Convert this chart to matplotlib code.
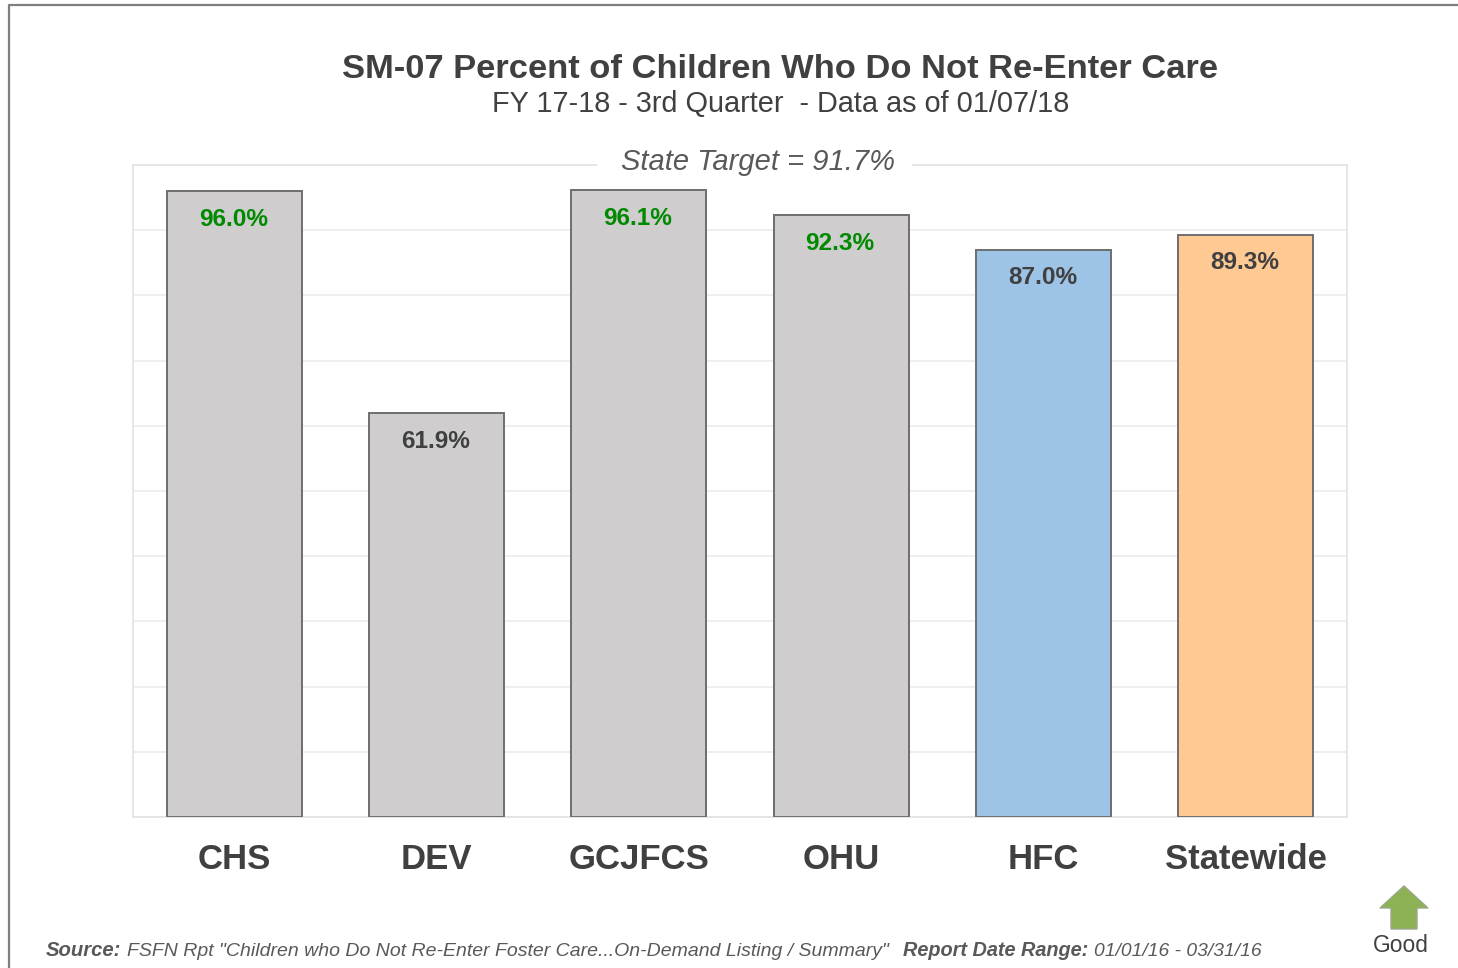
import matplotlib
matplotlib.use("Agg")
import matplotlib.pyplot as plt
from matplotlib.lines import Line2D
from matplotlib.patches import Polygon, Rectangle

categories = ["CHS", "DEV", "GCJFCS", "OHU", "HFC", "Statewide"]
values = [96.0, 61.9, 96.1, 92.3, 87.0, 89.3]
bar_colors = ["#CFCDCE", "#CFCDCE", "#CFCDCE", "#CFCDCE", "#9DC3E6", "#FFC993"]
label_colors = ["#008A00", "#404040", "#008A00", "#008A00", "#404040", "#404040"]
y_ticks = [0, 10, 20, 30, 40, 50, 60, 70, 80, 90, 100]
title = "SM-07 Percent of Children Who Do Not Re-Enter Care"
subtitle = "FY 17-18 - 3rd Quarter  - Data as of 01/07/18"
target_text = "State Target = 91.7%"

W, H = 1458, 968
plt.rcParams["font.family"] = ["Liberation Sans", "DejaVu Sans"]
fig = plt.figure(figsize=(W / 100, H / 100), dpi=100, facecolor="white")


def fx(x):
    return x / W


def fy(y):
    return 1 - y / H


ax = fig.add_axes([fx(133), fy(817), (1347 - 133) / W, (817 - 165) / H])
ax.set_xlim(-0.5, 5.5)
ax.set_ylim(0, 100)
ax.set_axisbelow(True)
ax.yaxis.grid(True, color="#EDEDED", lw=1.3)
ax.set_yticks(y_ticks)
ax.tick_params(axis="y", left=False, labelleft=False)
ax.tick_params(axis="x", bottom=False, pad=15, labelsize=25, labelcolor="#404040")
for s in ax.spines.values():
    s.set_color("#E4E4E4")
    s.set_linewidth(1.3)

bars = ax.bar(range(len(values)), values, width=0.667, color=bar_colors,
              edgecolor="#6E6E6E", linewidth=1.4, zorder=3)
ax.set_xticks(range(len(categories)))
ax.set_xticklabels(categories, fontweight="bold")

for rect, v, c in zip(bars, values, label_colors):
    ax.annotate(f"{v:.1f}%", (rect.get_x() + rect.get_width() / 2 - 0.005, v),
                xytext=(0, -12), textcoords="offset points", ha="center", va="top",
                fontsize=17.6, fontweight="bold", color=c, zorder=4)

fig.text(fx(780), fy(70), title, ha="center", va="center", fontsize=24.8,
         fontweight="bold", color="#404040")
fig.text(fx(781), fy(104), subtitle, ha="center", va="center", fontsize=20.8, color="#404040")

# gap in the top border behind the target label
fig.add_artist(Rectangle((fx(597), fy(172)), (912 - 597) / W, 17 / H, transform=fig.transFigure,
                         facecolor="white", edgecolor="none", zorder=5))
fig.text(fx(758), fy(162), target_text, ha="center", va="center", fontsize=21,
         style="italic", color="#595959", zorder=6)

# outer frame: left and top edges only
fig.add_artist(Line2D([fx(9), fx(9), 1], [0, fy(5), fy(5)], color="#7F7F7F", lw=1.6))

# source line
src = "#595959"
fig.text(fx(46), fy(951), "Source:", ha="left", va="center", fontsize=14.6,
         fontweight="bold", style="italic", color=src)
fig.text(fx(127), fy(951), 'FSFN Rpt "Children who Do Not Re-Enter Foster Care...On-Demand Listing / Summary"',
         ha="left", va="center", fontsize=14.0, style="italic", color=src)
fig.text(fx(903), fy(951), "Report Date Range:", ha="left", va="center", fontsize=14.3,
         fontweight="bold", style="italic", color=src)
fig.text(fx(1094), fy(951), "01/01/16 - 03/31/16", ha="left", va="center", fontsize=13.9,
         style="italic", color=src)

# "Good" arrow
arrow_px = [(1404, 886), (1428, 908), (1417, 908), (1417, 929), (1391, 929), (1391, 908), (1380, 908)]
fig.add_artist(Polygon([(fx(x), fy(y)) for x, y in arrow_px], closed=True,
                       transform=fig.transFigure, facecolor="#8DB255", edgecolor="#9AA88A", lw=1))
fig.text(fx(1401), fy(945), "Good", ha="center", va="center", fontsize=16.4, color="#404040")

fig.savefig("out.png", dpi=100)
